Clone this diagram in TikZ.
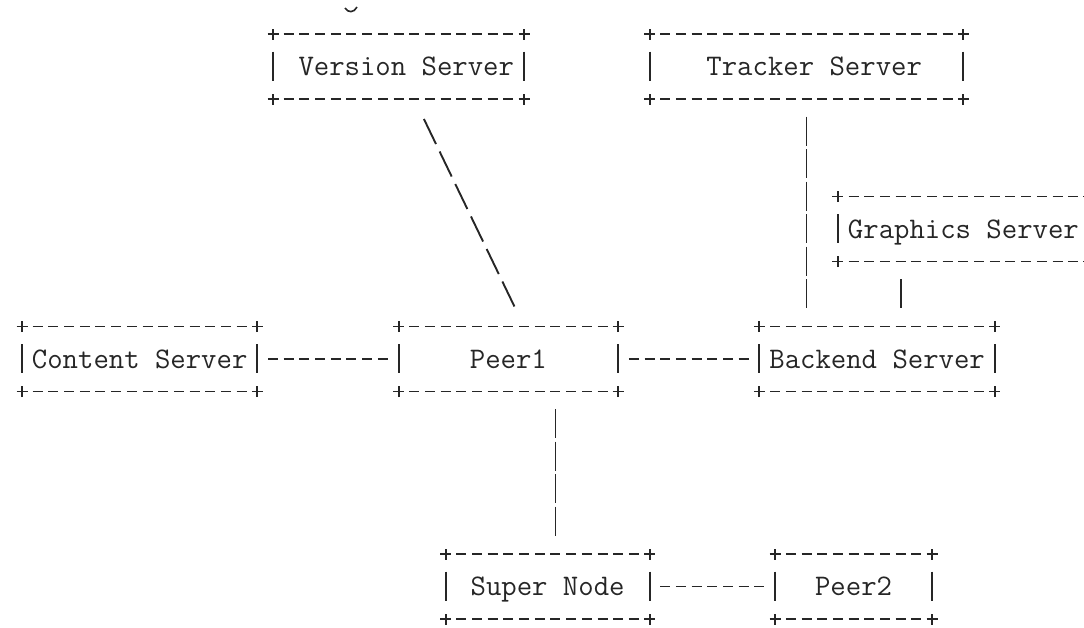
\documentclass[tikz,border=0pt]{standalone}
\usetikzlibrary{calc}

% one character cell of the monospaced grid
\newcommand\cw{15.69pt}

% draws the typed frame of a box: +----+ rows and | sides
\newcommand\frameit[1]{%
  \draw[hyph] ($(#1.north west)+(10.69pt,0)$) -- ($(#1.north east)+(-10.69pt,0)$);
  \draw[hyph] ($(#1.south west)+(10.69pt,0)$) -- ($(#1.south east)+(-10.69pt,0)$);
  \draw[pen] ($(#1.west)+(0,15pt)$) -- ($(#1.west)+(0,-14pt)$);
  \draw[pen] ($(#1.east)+(0,15pt)$) -- ($(#1.east)+(0,-14pt)$);
  \foreach \corner in {north west,north east,south west,south east}{%
    \draw[pen] ($(#1.\corner)+(-5.5pt,0)$) -- ++(11pt,0)
               ($(#1.\corner)+(0,-5.5pt)$) -- ++(0,11pt);}%
}

\tikzset{
  pen/.style={line width=1.9pt, draw=black!85},
  hyph/.style={pen, dash pattern=on 10pt off 5.69pt},
  bars/.style={pen, dash pattern=on 29pt off 3.5pt},
  slashes/.style={pen, dash pattern=on 27.8pt off 8.29pt},
  srvbox/.style={minimum width=#1*\cw, minimum height=65pt, inner sep=0pt,
    outer sep=0pt, text height=18pt, text depth=0pt, text=black!85,
    font=\ttfamily\fontsize{29.886pt}{32.5pt}\selectfont},
}

\begin{document}
\begin{tikzpicture}
\useasboundingbox (0,0) rectangle (1084pt,-627pt);
\clip (0,0) rectangle (1084pt,-627pt);

% descender of a line cut off above the picture
\draw[pen, line width=1.6pt] (345pt,-8pt) .. controls (348pt,-13pt) and (354pt,-13pt) .. (357pt,-7pt);

\begin{scope}[x=15.69pt, y=-32.5pt, shift={(22pt,-1.5pt)}]
  % servers and peers (column, row of the text line)
  \node[srvbox=16] (version)   at (24,2)    {\hphantom{0}Version Server};
  \node[srvbox=20] (tracker)   at (50,2)    {\hphantom{000}Tracker Server\hphantom{00}};
  \node[srvbox=16] (graphics)  at (60,7)    {Graphics Server};
  \node[srvbox=15] (content)   at (7.5,11)  {Content Server};
  \node[srvbox=14] (peer1)     at (31,11)   {\hphantom{0000}Peer1\hphantom{0000}};
  \node[srvbox=15] (backend)   at (54.5,11) {Backend Server};
  \node[srvbox=13] (supernode) at (33.5,18) {\hphantom{0}Super Node\hphantom{0}};
  \node[srvbox=10] (peer2)     at (53,18)   {\hphantom{00}Peer2\hphantom{00}};

  \foreach \n in {version,tracker,graphics,content,peer1,backend,supernode,peer2}
    {\frameit{\n}}

  % horizontal links
  \draw[hyph] ($(content.east)+(10.69pt,0)$) -- ($(peer1.west)+(-10.69pt,0)$);
  \draw[hyph] ($(peer1.east)+(10.69pt,0)$) -- ($(backend.west)+(-10.69pt,0)$);
  \draw[hyph] ($(supernode.east)+(10.69pt,0)$) -- ($(peer2.west)+(-10.69pt,0)$);

  % vertical links
  \draw[bars] ($(tracker.south)+(0,-17.5pt)$) -- ($(tracker.south |- backend.north)+(0,18.5pt)$);
  \coordinate (gdrop) at ($(graphics.south west)+(4,0)$);
  \draw[bars] ($(gdrop)+(0,-17.5pt)$) -- ($(gdrop |- backend.north)+(0,18.5pt)$);
  \coordinate (pdrop) at ($(peer1.south)+(3,0)$);
  \draw[bars] ($(pdrop)+(0,-17.5pt)$) -- ($(pdrop |- supernode.north)+(0,18.5pt)$);

  % diagonal link of backslashes
  \coordinate (vfoot) at ($(version.south)+(1,0)$);
  \coordinate (ptop)  at ($(peer1.north)+(1,0)$);
  \draw[slashes] ($(vfoot)!22.2pt!(ptop)$) -- ($(ptop)!22.2pt!(vfoot)$);
\end{scope}
\end{tikzpicture}
\end{document}
